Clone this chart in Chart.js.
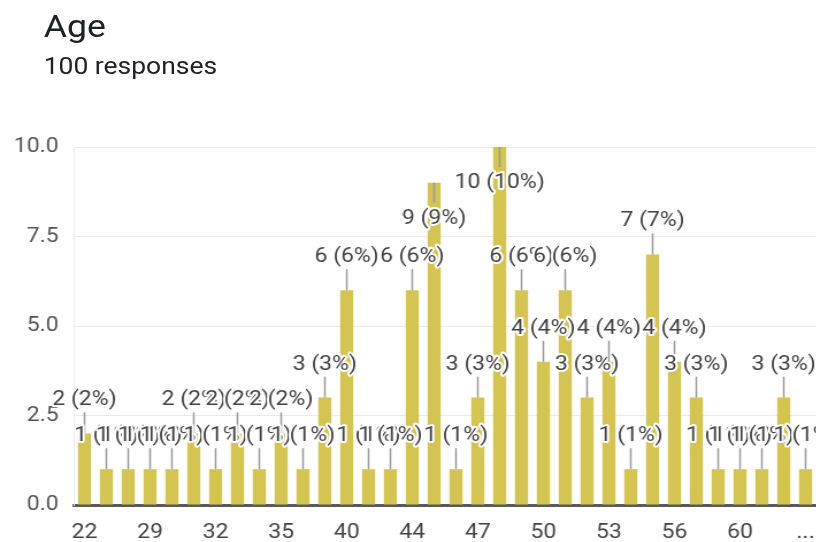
<!DOCTYPE html>
<html>
<head>
<meta charset="utf-8">
<title>Age</title>
<script src="https://cdn.jsdelivr.net/npm/chart.js@4/dist/chart.umd.min.js"></script>
<style>
body{margin:0;background:#fff;font-family:Roboto,Arial,sans-serif;overflow:hidden;}
#wrap{position:relative;width:710px;height:542px;transform:scaleX(1.15);transform-origin:0 0;}
#title{position:absolute;left:38px;top:11px;font-size:31px;line-height:31px;color:#202124;}
#sub{position:absolute;left:38px;top:55px;font-size:23px;line-height:23px;color:#202124;}
#box{position:absolute;left:0;top:110px;width:710px;height:432px;}
</style>
</head>
<body>
<div id="wrap">
<div id="title">Age</div>
<div id="sub">100 responses</div>
<div id="box"><canvas id="ageChart"></canvas></div>
</div>
<script>

// answers and counts

const ages = [
"22","25","27","29","30","31","32","33","34","35",
"37","38","40","41","43","44","45","46","47","48",
"49","50","51","52","53","54","55","56","57","58",
"60","61","62","..."
];

const counts = [
2,1,1,1,1,2,1,2,1,2,
1,3,6,1,1,6,9,1,3,10,
6,4,6,3,4,1,7,4,3,1,
1,1,3,1
];

const yTicks = [0,2.5,5,7.5,10];

const total = counts.reduce((a,b)=>a+b,0);

// labels with a stem, like google forms

const countLabels = {

id:"countLabels",

afterDatasetsDraw(chart){

const ctx = chart.ctx;
const area = chart.chartArea;
const bars = chart.getDatasetMeta(0).data;

ctx.save();

ctx.font = "20px Roboto";
ctx.textAlign = "center";
ctx.textBaseline = "middle";
ctx.lineJoin = "round";

bars.forEach((bar,i)=>{

let top = bar.y;
let text = counts[i] + " (" + Math.round(counts[i]/total*100) + "%)";

let below = top - 43 < area.top;

let stemEnd = below ? top + 20 : top - 21;
let textY = below ? top + 36 : top - 33;

ctx.strokeStyle = "#9a9a9a";
ctx.lineWidth = 1.5;
ctx.beginPath();
ctx.moveTo(bar.x,top);
ctx.lineTo(bar.x,stemEnd);
ctx.stroke();

ctx.strokeStyle = "#fff";
ctx.lineWidth = 4;
ctx.strokeText(text,bar.x,textY);

ctx.fillStyle = "#424242";
ctx.fillText(text,bar.x,textY);

});

ctx.restore();

}

};

const ageChart =
document.getElementById("ageChart");

if(ageChart){

new Chart(ageChart,{

type:"bar",

data:{

labels:ages,

datasets:[{

label:"Age",

data:counts,

backgroundColor:"#d4c452",

barPercentage:0.6,

categoryPercentage:1.0

}]

},

options:{

responsive:true,

maintainAspectRatio:false,

animation:false,

layout:{
padding:{top:37,right:0,left:0,bottom:0}
},

plugins:{
legend:{display:false},
tooltip:{enabled:false}
},

scales:{

x:{

grid:{display:false},

border:{display:true,color:"#5a5a5a",width:3},

ticks:{
autoSkip:false,
maxRotation:0,
padding:8,
color:"#444",
font:{family:"Roboto",size:20},
callback:function(value,index){
return index % 3 === 0 ? ages[index] : "";
}
},

afterFit(scale){
scale.height = 37;
scale.paddingLeft = 0;
scale.paddingRight = 0;
}

},

y:{

min:0,

max:10,

afterBuildTicks(scale){
scale.ticks = yTicks.map(v=>({value:v}));
},

grid:{
color:"#ebebeb",
drawTicks:false
},

border:{display:true,color:"#ececec"},

ticks:{
padding:13,
color:"#555",
font:{family:"Roboto",size:20},
callback:function(value){
return value.toFixed(1);
}
},

afterFit(scale){
scale.width = 64;
scale.paddingTop = 0;
scale.paddingBottom = 0;
}

}

}

},

plugins:[countLabels]

});

}

</script>
</body>
</html>
